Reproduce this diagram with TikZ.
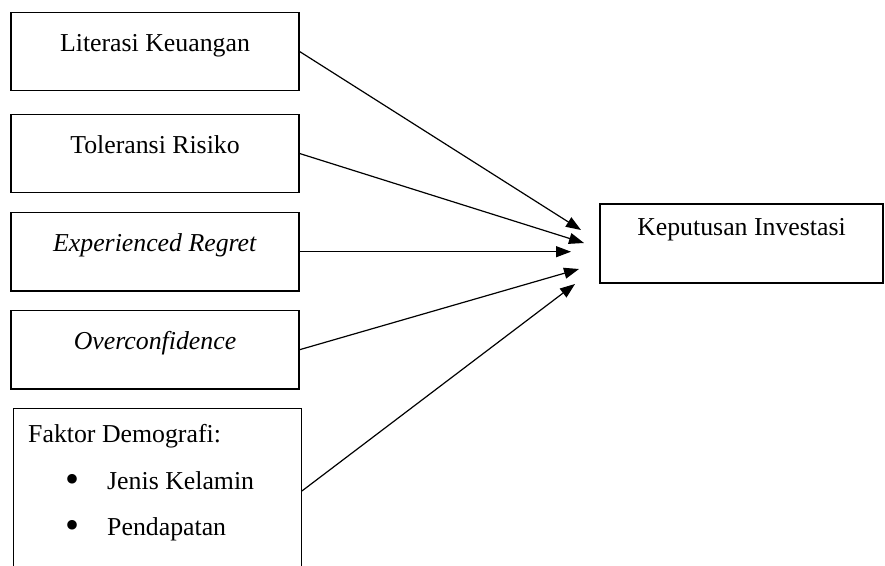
\documentclass[tikz,border=0pt]{standalone}
\usepackage{fontspec}
\setmainfont{Liberation Serif}
\usetikzlibrary{arrows.meta}

\newcommand{\butir}{\raisebox{-3pt}{\fontsize{40}{30}\selectfont\textbullet}\hspace{28pt}}

\begin{document}
\begin{tikzpicture}[
    x=1pt, y=-1pt,
    every node/.style={font=\fontsize{25.8}{30}\selectfont},
    box/.style={rectangle, draw, line width=1.2pt, minimum width=288pt, minimum height=78.5pt, inner sep=0pt, text height=18pt, text depth=18pt},
    link/.style={-{Triangle[length=15pt, width=11pt]}, line width=1.2pt}
]
    \useasboundingbox (0,0) rectangle (885,565);

    % variabel independen
    \node[box] (lit) at (155,51.5) {Literasi Keuangan};
    \node[box] (tol) at (155,153.5) {Toleransi Risiko};
    \node[box] (exp) at (155,251.7) {\textit{Experienced Regret}};
    \node[box] (over) at (155,349.7) {\textit{Overconfidence}};

    % faktor demografi (bagian bawah terpotong)
    \node[box, anchor=north west, minimum height=200pt] (demog) at (12.7,408) {};
    \node[anchor=base west, inner sep=0pt] (faktor) at (28,442) {Faktor Demografi:};
    \node[anchor=base west, inner sep=0pt] (jenis) at (65,489) {\butir Jenis Kelamin};
    \node[anchor=base west, inner sep=0pt] (pend) at (65,535) {\butir Pendapatan};

    % variabel dependen
    \node[box, minimum width=283pt, minimum height=79pt, text depth=34pt] (kep) at (741.5,243.5) {Keputusan Investasi};

    % ujung panah
    \coordinate (d5) at ([yshift=-83pt]demog.north east);
    \coordinate (t1) at (581,230);
    \coordinate (t2) at (584,243);
    \coordinate (t3) at (571,251.7);
    \coordinate (t4) at (579,269);
    \coordinate (t5) at (575,284);

    \draw[link] (lit.east) -- (t1);
    \draw[link] (tol.east) -- (t2);
    \draw[link] (exp.east) -- (t3);
    \draw[link] (over.east) -- (t4);
    \draw[link] (d5) -- (t5);
\end{tikzpicture}
\end{document}
